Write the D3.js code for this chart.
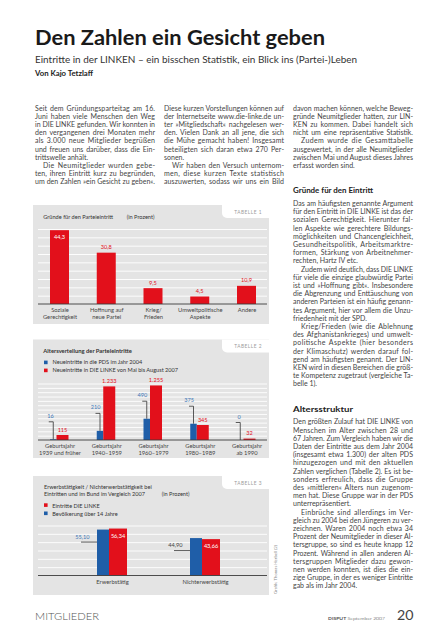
<!DOCTYPE html>
<html><head><meta charset="utf-8">
<script src="https://cdn.jsdelivr.net/npm/d3@7"></script>
<style>
html,body{margin:0;padding:0;background:#fff;}
svg{display:block;font-family:Lato,"Open Sans",sans-serif;}
</style></head><body>
<svg id="page" width="434" height="640"></svg>
<script>
// ---------------- DATA ----------------
const reasonCategories = ["Soziale\nGerechtigkeit","Hoffnung auf\nneue Partei","Krieg/\nFrieden","Umweltpolitische\nAspekte","Andere"];
const reasonValues = [44.3, 30.8, 9.5, 4.5, 10.9];
const reasonGrid = [5,10,15,20,25,30,35,40,45];

const ageCategories = ["Geburtsjahr\n1939 und früher","Geburtsjahr\n1940–1959","Geburtsjahr\n1960–1979","Geburtsjahr\n1980–1989","Geburtsjahr\nab 1990"];
const agePds2004 = [16, 210, 490, 375, 0];
const ageLinke2007 = [115, 1233, 1255, 345, 32];
const ageGrid = [100,200,300,400,500,600,700,800,900,1000,1100,1200,1300];
const ageLegend = ["Neueintritte in die PDS im Jahr 2004","Neueintritte in DIE LINKE von Mai bis August 2007"];

const workCategories = ["Erwerbstätig","Nichterwerbstätig"];
const workBevoelkerung = [55.10, 44.90];
const workLinke = [56.34, 43.66];
const workGrid = [10,20,30,40,50,60];
const workLegend = ["Eintritte DIE LINKE","Bevölkerung über 14 Jahre"];

const col1 = [
 {indent:false, lines:["Seit dem Gründungsparteitag am 16.","Juni haben viele Menschen den Weg","in DIE LINKE gefunden. Wir konnten in","den vergangenen drei Monaten mehr","als 3.000 neue Mitglieder begrüßen","und freuen uns darüber, dass die Ein-","trittswelle anhält."]},
 {indent:true, lines:["Die Neumitglieder wurden gebe-","ten, ihren Eintritt kurz zu begründen,","um den Zahlen »ein Gesicht zu geben«."]}
];
const col2 = [
 {indent:false, lines:["Diese kurzen Vorstellungen können auf","der Internetseite www.die-linke.de un-","ter »Mitgliedschaft« nachgelesen wer-","den. Vielen Dank an all jene, die sich","die Mühe gemacht haben! Insgesamt","beteiligten sich daran etwa 270 Per-","sonen."]},
 {indent:true, cont:true, lines:["Wir haben den Versuch unternom-","men, diese kurzen Texte statistisch","auszuwerten, sodass wir uns ein Bild"]}
];
const col3 = [
 {indent:false, lines:["davon machen können, welche Beweg-","gründe Neumitglieder hatten, zur LIN-","KEN zu kommen. Dabei handelt sich","nicht um eine repräsentative Statistik."]},
 {indent:true, lines:["Zudem wurde die Gesamttabelle","ausgewertet, in der alle Neumitglieder","zwischen Mai und August dieses Jahres","erfasst worden sind."]},
 {heading:"Gründe für den Eintritt", hw:80},
 {indent:false, lines:["Das am häufigsten genannte Argument","für den Eintritt in DIE LINKE ist das der","sozialen Gerechtigkeit. Hierunter fal-","len Aspekte wie gerechtere Bildungs-","möglichkeiten und Chancengleichheit,","Gesundheitspolitik, Arbeitsmarktre-","formen, Stärkung von Arbeitnehmer-","rechten, Hartz IV etc."]},
 {indent:true, lines:["Zudem wird deutlich, dass DIE LINKE","für viele die einzige glaubwürdig Partei","ist und »Hoffnung gibt«. Insbesondere","die Abgrenzung und Enttäuschung von","anderen Parteien ist ein häufig genann-","tes Argument, hier vor allem die Unzu-","friedenheit mit der SPD."]},
 {indent:true, lines:["Krieg/Frieden (wie die Ablehnung","des Afghanistankrieges) und umwelt-","politische Aspekte (hier besonders","der Klimaschutz) werden darauf fol-","gend am häufigsten genannt. Der LIN-","KEN wird in diesen Bereichen die größ-","te Kompetenz zugetraut (vergleiche Ta-","belle 1)."]},
 {heading:"Altersstruktur", hw:60},
 {indent:false, lines:["Den größten Zulauf hat DIE LINKE von","Menschen im Alter zwischen 28 und","67 Jahren. Zum Vergleich haben wir die","Daten der Eintritte aus dem Jahr 2004","(insgesamt etwa 1.300) der alten PDS","hinzugezogen und mit den aktuellen","Zahlen verglichen (Tabelle 2). Es ist be-","sonders erfreulich, dass die Gruppe","des »mittleren« Alters nun zugenom-","men hat. Diese Gruppe war in der PDS","unterrepräsentiert."]},
 {indent:true, lines:["Einbrüche sind allerdings im Ver-","gleich zu 2004 bei den Jüngeren zu ver-","zeichnen. Waren 2004 noch etwa 34","Prozent der Neumitglieder in dieser Al-","tersgruppe, so sind es heute knapp 12","Prozent. Während in allen anderen Al-","tersgruppen Mitglieder dazu gewon-","nen werden konnten, ist dies die ein-","zige Gruppe, in der es weniger Eintritte","gab als im Jahr 2004."]}
];

// ---------------- SETUP ----------------
const svg = d3.select("#page");
const de = d3.formatLocale({decimal:",", thousands:".", grouping:[3], currency:["","€"]});
const f1 = de.format(".1f"), fInt = de.format(",d"), f2 = de.format(".2f");
const RED = "#e2101b", BLUE = "#1f5ea8", BG = "#e4e4e4", INK = "#333", LBL = "#444";
const BLUE_TXT = "#3d78b8";

// ---------------- HEADER ----------------
svg.append("text").attr("x",35).attr("y",45).attr("font-size",20.5).attr("font-weight",700)
  .attr("fill","#1a1a1a").attr("textLength",290).attr("lengthAdjust","spacingAndGlyphs")
  .text("Den Zahlen ein Gesicht geben");
svg.append("text").attr("x",35).attr("y",63).attr("font-size",10).attr("fill","#333")
  .attr("textLength",322).attr("lengthAdjust","spacingAndGlyphs")
  .text("Eintritte in der LINKEN – ein bisschen Statistik, ein Blick ins (Partei-)Leben");
svg.append("text").attr("x",35).attr("y",75.5).attr("font-size",7.5).attr("font-weight",700).attr("fill","#222")
  .attr("textLength",58).attr("lengthAdjust","spacingAndGlyphs").text("Von Kajo Tetzlaff");

// ---------------- BODY TEXT ----------------
const FS = 7.0, LH = 8.2, IND = 8, COLW = 120;
function drawColumn(x, y0, blocks){
  const g = svg.append("g").attr("font-size",FS).attr("fill","#444");
  let y = y0;
  blocks.forEach((b)=>{
    if(b.heading){
      y += 25.5 - LH;
      g.append("text").attr("x",x).attr("y",y).attr("font-size",7.6).attr("font-weight",700).attr("fill","#222")
        .attr("textLength",b.hw).attr("lengthAdjust","spacingAndGlyphs").text(b.heading);
      y += 12.5;
      return;
    }
    b.lines.forEach((ln,i)=>{
      const xi = x + (b.indent && i===0 ? IND : 0);
      const target = COLW - (xi - x);
      const t = g.append("text").attr("x",xi).attr("y",y).text(ln);
      const L = t.node().getComputedTextLength();
      const last = i === b.lines.length-1;
      const justify = !last || b.cont || L > 0.93*target;
      if(justify){
        const n = (ln.match(/ /g)||[]).length;
        const E = target - L;
        if(n){
          const ws = E > 0 ? Math.min(E/n, 1.0) : Math.max(E/n, -0.4);
          t.style("word-spacing", ws+"px");
        }
        t.attr("textLength",target).attr("lengthAdjust", E >= -4 ? "spacing" : "spacingAndGlyphs");
      } else if (L > target){
        t.attr("textLength",target).attr("lengthAdjust","spacingAndGlyphs");
      }
      y += LH;
    });
  });
}
drawColumn(35, 110.5, col1);
drawColumn(164, 110.5, col2);
drawColumn(293, 110.5, col3);

// ---------------- CHART HELPERS ----------------
const GX0 = 38, GX1 = 267;
function panel(top, bottom, label){
  const g = svg.append("g");
  g.append("rect").attr("x",33).attr("y",top).attr("width",236).attr("height",bottom-top).attr("fill",BG);
  const tx = 222, th = 13, r = 5;
  g.append("path").attr("d",`M${tx},${top} H270 V${top+th} H${tx+r} A${r},${r} 0 0 1 ${tx},${top+th-r} Z`).attr("fill","#fff");
  g.append("text").attr("x",262).attr("y",top+8.5).attr("text-anchor","end").attr("font-size",4.8)
    .attr("letter-spacing",0.5).attr("fill","#9c9c9c").text(label);
  return g;
}
function grid(g, y, ticks){
  g.append("g").attr("transform",`translate(${GX0},0)`)
    .call(d3.axisRight(y).tickValues(ticks).tickSize(GX1-GX0).tickFormat(""))
    .call(s=>{ s.select(".domain").remove(); s.selectAll("line").attr("stroke","#fff").attr("stroke-width",0.9); });
}
function baseAxis(g, x, axisY){
  g.append("line").attr("x1",GX0).attr("x2",GX1).attr("y1",axisY).attr("y2",axisY)
    .attr("stroke","#3a3a3a").attr("stroke-width",0.9);
  const ax = g.append("g").attr("transform",`translate(0,${axisY})`)
    .call(d3.axisBottom(x).tickSize(0));
  ax.select(".domain").remove();
  ax.attr("font-family",null).attr("font-size",null);
  ax.selectAll("text").each(function(d){
    const t = d3.select(this);
    t.attr("y",8).attr("dy",null).attr("font-size",5.8).attr("fill",LBL).text(null);
    String(d).split("\n").forEach((p,i)=>t.append("tspan").attr("x",0).attr("dy",i?7.3:0).text(p));
  });
}

// ---------------- CHART 1 ----------------
{
  const top=205, bottom=324, axisY=304;
  const g = panel(top,bottom,"TABELLE 1");
  g.append("text").attr("x",43.3).attr("y",218.5).attr("font-size",5.6).attr("fill",INK)
    .text("Gründe für den Parteieintritt");
  g.append("text").attr("x",126.7).attr("y",218.5).attr("font-size",5.6).attr("fill",INK).text("(in Prozent)");
  const y = d3.scaleLinear().domain([0,45]).range([axisY,229]);
  const x = d3.scalePoint().domain(reasonCategories).range([59.5,246.5]);
  grid(g,y,reasonGrid);
  const bw = 19, vmax = d3.max(reasonValues);
  g.selectAll(".b1").data(reasonValues).join("rect")
    .attr("x",(d,i)=>x(reasonCategories[i])-bw/2).attr("y",d=>y(d))
    .attr("width",bw).attr("height",d=>axisY-y(d)).attr("fill",RED);
  g.selectAll(".l1").data(reasonValues).join("text")
    .attr("x",(d,i)=>x(reasonCategories[i])).attr("y",d=>d===vmax? y(d)+8.5 : y(d)-3.5)
    .attr("text-anchor","middle").attr("font-size",5.6)
    .attr("fill",d=>d===vmax?"#fff":RED).text(d=>f1(d));
  baseAxis(g,x,axisY);
}

// ---------------- CHART 2 ----------------
{
  const top=339.5, bottom=458, axisY=440;
  const g = panel(top,bottom,"TABELLE 2");
  g.append("text").attr("x",43.3).attr("y",353.3).attr("font-size",5.8).attr("font-weight",700).attr("fill",INK)
    .text("Altersverteilung der Parteieintritte");
  [BLUE,RED].forEach((c,i)=>{
    g.append("rect").attr("x",44).attr("y",360.6+i*8).attr("width",3.6).attr("height",3.6).attr("fill",c);
    g.append("text").attr("x",52.5).attr("y",364.4+i*8).attr("font-size",5.6).attr("fill",INK).text(ageLegend[i]);
  });
  const y = d3.scaleLinear().domain([0,1300]).range([axisY,383.5]);
  const x = d3.scalePoint().domain(ageCategories).range([59.5,246.5]);
  grid(g,y,ageGrid);
  const bwB = 6.5, bwR = 12;
  g.selectAll(".b2b").data(agePds2004).join("rect")
    .attr("x",(d,i)=>x(ageCategories[i])-3-bwB).attr("y",d=>y(d))
    .attr("width",bwB).attr("height",d=>axisY-y(d)).attr("fill",BLUE);
  g.selectAll(".b2r").data(ageLinke2007).join("rect")
    .attr("x",(d,i)=>x(ageCategories[i])-3).attr("y",d=>y(d))
    .attr("width",bwR).attr("height",d=>axisY-y(d)).attr("fill",RED);
  agePds2004.forEach((d,i)=>{
    const vx = x(ageCategories[i]) - 3 - bwB/2, yt = y(d), ty = yt - 17.5;
    g.append("path").attr("d",`M${vx-4.5},${ty} H${vx} V${yt}`).attr("fill","none")
      .attr("stroke","#333").attr("stroke-width",0.8);
    g.append("text").attr("x",vx+0.5).attr("y",ty-4).attr("text-anchor","end").attr("font-size",5.6)
      .attr("fill",BLUE_TXT).text(fInt(d));
  });
  g.selectAll(".l2r").data(ageLinke2007).join("text")
    .attr("x",(d,i)=>x(ageCategories[i])-3+bwR/2).attr("y",d=>y(d)-3.5)
    .attr("text-anchor","middle").attr("font-size",5.6).attr("fill",RED).text(d=>fInt(d));
  baseAxis(g,x,axisY);
}

// ---------------- CHART 3 ----------------
{
  const top=476, bottom=595, axisY=575.5;
  const g = panel(top,bottom,"TABELLE 3");
  g.append("text").attr("x",44).attr("y",488.7).attr("font-size",5.6).attr("fill",INK)
    .text("Erwerbstätigkeit / Nichterwerbstätigkeit bei");
  g.append("text").attr("x",44).attr("y",496.3).attr("font-size",5.6).attr("fill",INK)
    .text("Eintritten und im Bund im Vergleich 2007");
  g.append("text").attr("x",161.7).attr("y",496.3).attr("font-size",5.6).attr("fill",INK).text("(in Prozent)");
  [RED,BLUE].forEach((c,i)=>{
    g.append("rect").attr("x",44).attr("y",503.3+i*8.2).attr("width",3.6).attr("height",3.6).attr("fill",c);
    g.append("text").attr("x",52.3).attr("y",507.9+i*8.2).attr("font-size",5.6).attr("fill",INK).text(workLegend[i]);
  });
  const y = d3.scaleLinear().domain([0,60]).range([axisY,525.5]);
  const x = d3.scalePoint().domain(workCategories).range([112,205]);
  grid(g,y,workGrid);
  const bwB = 12, bwR = 18;
  g.selectAll(".b3b").data(workBevoelkerung).join("rect")
    .attr("x",(d,i)=>x(workCategories[i])-3-bwB).attr("y",d=>y(d))
    .attr("width",bwB).attr("height",d=>axisY-y(d)).attr("fill",BLUE);
  g.selectAll(".b3r").data(workLinke).join("rect")
    .attr("x",(d,i)=>x(workCategories[i])-3).attr("y",d=>y(d))
    .attr("width",bwR).attr("height",d=>axisY-y(d)).attr("fill",RED);
  g.selectAll(".l3r").data(workLinke).join("text")
    .attr("x",(d,i)=>x(workCategories[i])-3+bwR/2).attr("y",d=>y(d)+9.3)
    .attr("text-anchor","middle").attr("font-size",5.6).attr("fill","#fff").text(d=>f2(d));
  workBevoelkerung.forEach((d,i)=>{
    const bx = x(workCategories[i]) - 3 - bwB, yt = y(d);
    g.append("line").attr("x1",bx-16).attr("x2",bx).attr("y1",yt+12.5).attr("y2",yt+12.5)
      .attr("stroke","#333").attr("stroke-width",0.8);
    g.append("text").attr("x",bx-7.5).attr("y",yt+9.3).attr("text-anchor","end").attr("font-size",5.6)
      .attr("fill",i===0?BLUE_TXT:"#444").text(f2(d));
  });
  baseAxis(g,x,axisY);
}

// credit
svg.append("text").attr("transform","translate(276.5,594) rotate(-90)").attr("font-size",4.3)
  .attr("fill","#8a8a8a").attr("textLength",49).attr("lengthAdjust","spacingAndGlyphs")
  .text("Grafik: Thomas Herbell (2)");

// ---------------- FOOTER ----------------
svg.append("text").attr("x",35).attr("y",619.5).attr("font-size",10).attr("font-weight",300).attr("fill","#555")
  .attr("textLength",64).attr("lengthAdjust","spacingAndGlyphs").text("MITGLIEDER");
{
  const t = svg.append("text").attr("x",328).attr("y",619.5).attr("font-size",4.5).attr("fill","#888")
    .attr("textLength",57).attr("lengthAdjust","spacingAndGlyphs");
  t.append("tspan").attr("font-weight",700).attr("fill","#555").text("DISPUT");
  t.append("tspan").text(" September 2007");
}
svg.append("text").attr("x",413.5).attr("y",620).attr("text-anchor","end").attr("font-size",12.5).attr("fill","#444")
  .attr("textLength",16.5).attr("lengthAdjust","spacingAndGlyphs").text("20");
</script>
</body></html>
